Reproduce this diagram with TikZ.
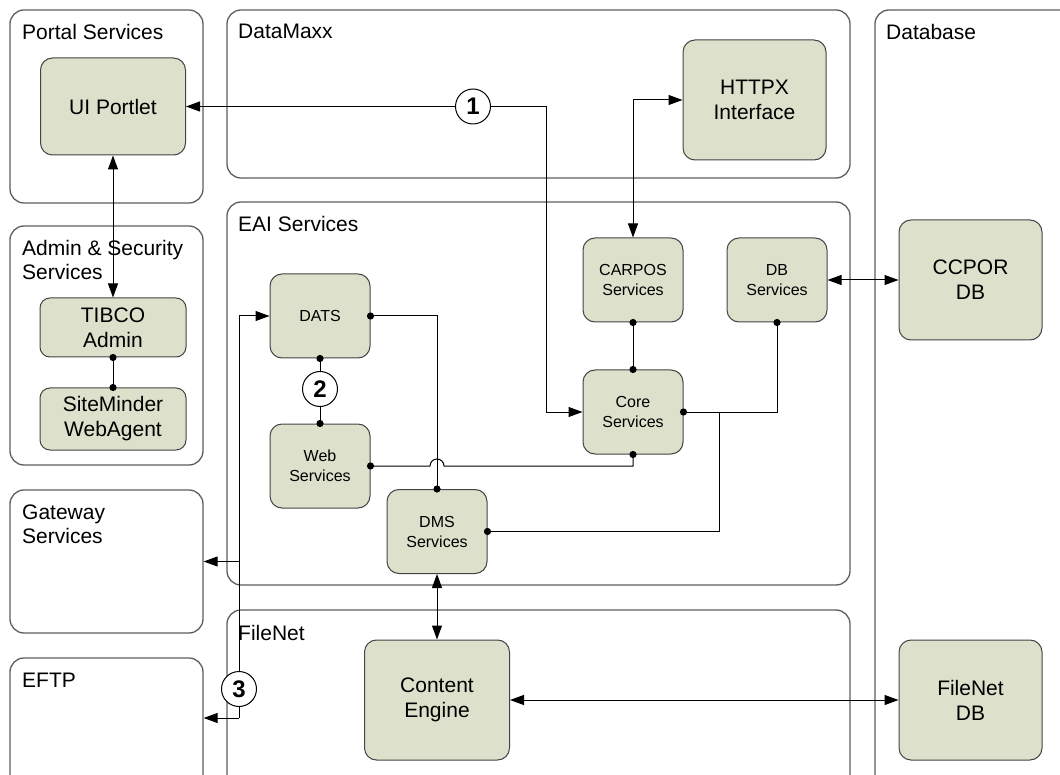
\documentclass[tikz,border=0pt]{standalone}
\usepackage{fontspec}
\setmainfont{Liberation Sans}
\usetikzlibrary{arrows.meta}
\definecolor{nodefill}{HTML}{DDE0CB}
\definecolor{boxline}{HTML}{5E5E5E}
\definecolor{nodeline}{HTML}{444444}
\begin{document}
\begin{tikzpicture}[x=1pt,y=-1pt,
  container/.style={draw=boxline, line width=1.3pt, rounded corners=14pt, inner sep=0pt},
  title/.style={anchor=north west, inner sep=0pt, align=left, font=\fontsize{21}{24}\selectfont},
  bignode/.style={draw=nodeline, fill=nodefill, line width=1pt, rounded corners=12pt, align=center, inner sep=0pt, font=\fontsize{21}{25}\selectfont},
  smallnode/.style={draw=nodeline, fill=nodefill, line width=1pt, rounded corners=12pt, align=center, inner sep=0pt, minimum width=100pt, minimum height=84pt, font=\fontsize{16}{20}\selectfont},
  num/.style={draw=black, fill=white, circle, line width=1pt, inner sep=0pt, minimum size=35pt, font=\fontsize{24}{24}\bfseries\selectfont},
  conn/.style={line width=1pt, draw=black},
  tip/.style={-{Triangle[length=14pt,width=10pt]}},
  tips/.style={{Triangle[length=14pt,width=10pt]}-{Triangle[length=14pt,width=10pt]}},
  dotr/.style={radius=3.6pt}
]
\clip (0,0) rectangle (1060,775);
\fill[white] (0,0) rectangle (1060,775);

% containers
\node[container, minimum width=193pt, minimum height=193pt] (portal) at (106.5,106.5) {};
\node[container, minimum width=193pt, minimum height=239pt] (admin) at (106.5,345.5) {};
\node[container, minimum width=193pt, minimum height=143pt] (gw) at (106.5,561.5) {};
\node[container, minimum width=193pt, minimum height=142pt] (eftp) at (106.5,729) {};
\node[container, minimum width=623pt, minimum height=168pt] (datamaxx) at (538.5,94) {};
\node[container, minimum width=623pt, minimum height=383pt] (eai) at (538.5,393.5) {};
\node[container, minimum width=623pt, minimum height=190pt] (filenet) at (538.5,705) {};
\node[container, minimum width=205pt, minimum height=790pt] (database) at (977.5,405) {};

% titles
\node[title] (tportal) at (22,24) {Portal Services};
\node[title] (tadmin) at (22,240) {Admin \& Security\\Services};
\node[title] (tgw) at (22,505) {Gateway\\Services};
\node[title] (teftp) at (22,673) {EFTP};
\node[title] (tdm) at (238,24) {DataMaxx};
\node[title] (teai) at (238,216) {EAI Services};
\node[title] (tfn) at (238,625) {FileNet};
\node[title] (tdb) at (886,24) {Database};

% big nodes
\node[bignode, minimum width=145pt, minimum height=97pt] (ui) at (113,106.5) {UI Portlet};
\node[bignode, minimum width=143pt, minimum height=120pt] (httpx) at (754.5,100) {HTTPX\\Interface};
\node[bignode, minimum width=146pt, minimum height=59pt, rounded corners=10pt] (tibco) at (113,327.5) {TIBCO\\Admin};
\node[bignode, minimum width=146pt, minimum height=62pt, rounded corners=10pt] (site) at (113,419) {SiteMinder\\WebAgent};
\node[bignode, minimum width=143pt, minimum height=120pt] (ccpor) at (970.5,280) {CCPOR\\DB};
\node[bignode, minimum width=145pt, minimum height=120pt] (ce) at (437,700) {Content\\Engine};
\node[bignode, minimum width=143pt, minimum height=120pt] (fdb) at (970.5,700) {FileNet\\DB};

% small nodes
\node[smallnode] (dats) at (320,316) {DATS};
\node[smallnode] (web) at (320,466) {Web\\Services};
\node[smallnode] (dms) at (437,531.5) {DMS\\Services};
\node[smallnode] (carpos) at (633,280) {CARPOS\\Services};
\node[smallnode] (dbs) at (777,280) {DB\\Services};
\node[smallnode] (core) at (633,412) {Core\\Services};

% numbered circles
\node[num] (c1) at (473,106.5) {1};
\node[num] (c2) at (320,389) {2};
\node[num] (c3) at (239,689) {3};
\coordinate (e3) at (239,718);

% connectors
\draw[conn, tip] (c1.west) -- (ui.east);
\draw[conn, tip] (c1.east) -| ([xshift=-36pt]core.west) -- (core.west);
\draw[conn, tips] (carpos.north) |- (httpx.west);
\draw[conn, tips] (ui.south) -- (tibco.north);
\draw[conn] (tibco.south) -- (site.north);
\draw[conn] (dats.south) -- (c2.north);
\draw[conn] (c2.south) -- (web.north);
\draw[conn] (carpos.south) -- (core.north);
\draw[conn] (core.east) -| (dbs.south);
\draw[conn] ([xshift=36pt]core.east) |- (dms.east);
\draw[conn, tips] (dbs.east) -- (ccpor.west);
\draw[conn] (dats.east) -| (dms.north);
\draw[conn] (web.east) -- ([xshift=-7pt]web.east -| dms.north) arc[start angle=180, end angle=360, radius=7] -| (core.south);
\draw[conn, tips] (dms.south) -- (ce.north);
\draw[conn, tips] (ce.east) -- (fdb.west);
\draw[conn, tip] (c3.north) |- (dats.west);
\draw[conn, tip] (c3.north |- gw.east) -- (gw.east);
\draw[conn] (c3.south) -- (e3);
\draw[conn, tip] (e3) -- (e3 -| eftp.east);

% connection dots
\foreach \p in {tibco.south, site.north, dats.south, web.north, carpos.south, core.north, core.east, dbs.south, dms.east, dats.east, dms.north, web.east, core.south}
  \fill (\p) circle[dotr];
\end{tikzpicture}
\end{document}
